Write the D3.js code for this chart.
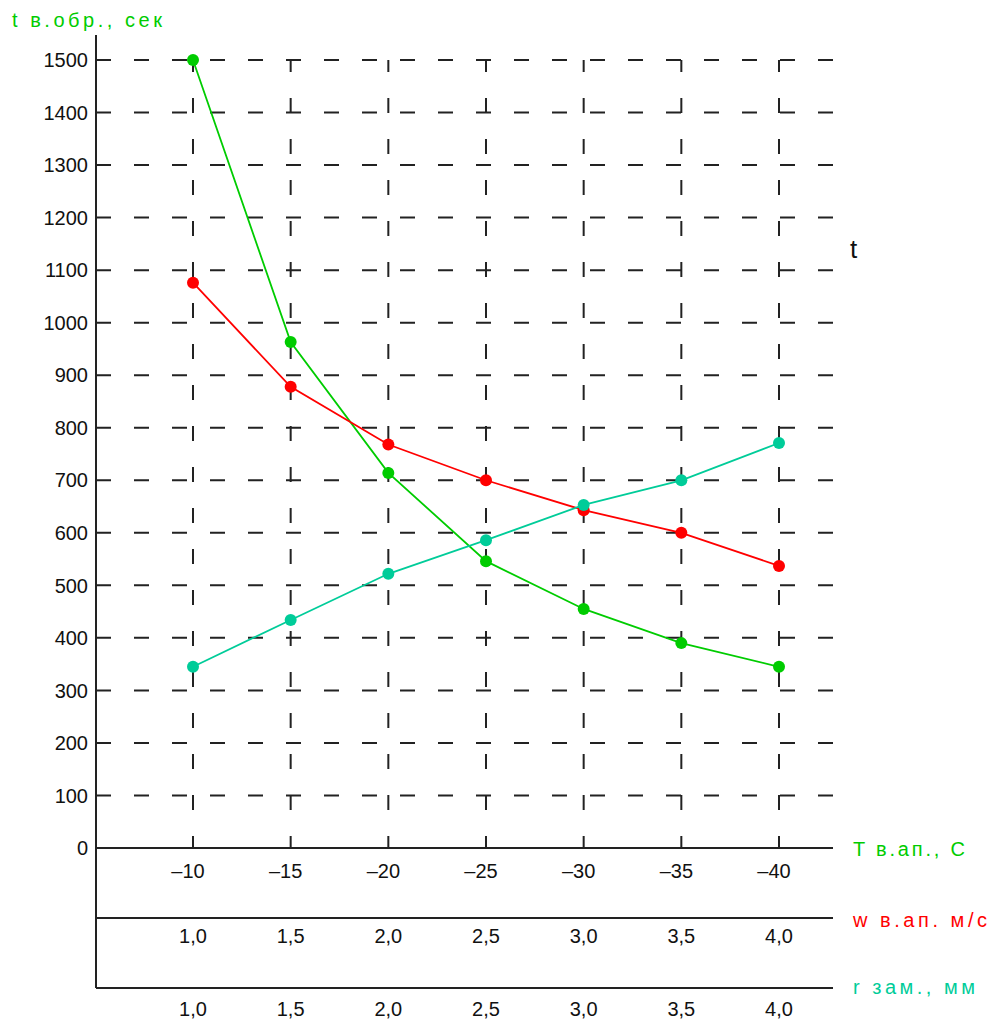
<!DOCTYPE html>
<html>
  <head>
    <meta charset="utf-8">
    <title>t в.обр.</title>
<style>
  body { margin: 0; background: #fff; }
  svg text { font-family: "Liberation Sans", Arial, sans-serif; }
  .grid line { stroke: #222; stroke-width: 2; }
  .frame line { stroke: #222; stroke-width: 2; }
</style>
  </head>
  <body>
    <div id="viz"></div>

  <script src="https://cdnjs.cloudflare.com/ajax/libs/d3/7.8.5/d3.min.js"></script>
  <script>

    // categories on the three bottom axes
    var tempC     = [-10, -15, -20, -25, -30, -35, -40];
    var windSpeed = [1.0, 1.5, 2.0, 2.5, 3.0, 3.5, 4.0];
    var thickness = [1.0, 1.5, 2.0, 2.5, 3.0, 3.5, 4.0];

    // t в.обр., сек
    var timeByTemp  = [1500, 963, 714, 546, 455, 390, 345];
    var timeByWind  = [1076, 878, 768, 700, 643, 600, 537];
    var timeByThick = [345, 434, 522, 586, 653, 700, 771];

    var yTicks = [0, 100, 200, 300, 400, 500, 600, 700, 800, 900, 1000, 1100, 1200, 1300, 1400, 1500];

    (function() {
      var margin = {top: 60, left: 96},
          width = 737,
          height = 788;

      var green = "#00cc00", red = "#ff0000", teal = "#00cc99";

      var y = d3.scaleLinear().domain([0, 1500]).range([height, 0]);
      var xT = d3.scaleLinear().domain([-10, -40]).range([97, 683]);
      var xW = d3.scaleLinear().domain([1, 4]).range([97, 683]);
      var xR = d3.scaleLinear().domain([1, 4]).range([97, 683]);

      var comma = function(v) { return d3.format(".1f")(v).replace(".", ","); };

      var svg = d3.select("#viz").append("svg")
          .attr("width", 987)
          .attr("height", 1019)
        .append("g")
          .attr("transform", "translate(" + margin.left + "," + margin.top + ")");

      // dashed grid
      var grid = svg.append("g").attr("class", "grid");
      grid.selectAll(".h")
          .data(yTicks.filter(function(d) { return d > 0; }))
        .enter().append("line")
          .attr("x1", 0).attr("x2", width)
          .attr("y1", function(d) { return y(d); })
          .attr("y2", function(d) { return y(d); })
          .attr("stroke-dasharray", "15,23");

      grid.selectAll(".v")
          .data(tempC)
        .enter().append("line")
          .attr("x1", function(d) { return xT(d); })
          .attr("x2", function(d) { return xT(d); })
          .attr("y1", y(1500)).attr("y2", y(0))
          .attr("stroke-dasharray", "15,26")
          .attr("stroke-dashoffset", 3);

      // axes frame
      var frame = svg.append("g").attr("class", "frame");
      frame.append("line").attr("x1", 0).attr("x2", 0).attr("y1", -25).attr("y2", height + 140);
      [0, 70, 140].forEach(function(off) {
        frame.append("line")
          .attr("x1", 0).attr("x2", width)
          .attr("y1", height + off).attr("y2", height + off);
      });

      // y tick labels
      svg.selectAll(".ylab")
          .data(yTicks)
        .enter().append("text")
          .attr("x", -8)
          .attr("y", function(d) { return y(d); })
          .attr("dy", "0.36em")
          .attr("text-anchor", "end")
          .attr("font-size", 20)
          .attr("fill", "#111")
          .text(function(d) { return d; });

      // bottom scales labels
      svg.selectAll(".tlab")
          .data(tempC)
        .enter().append("text")
          .attr("x", function(d) { return xT(d) - 5; })
          .attr("y", height + 30)
          .attr("text-anchor", "middle")
          .attr("font-size", 20)
          .attr("fill", "#111")
          .text(function(d) { return "\u2013" + Math.abs(d); });

      svg.selectAll(".wlab")
          .data(windSpeed)
        .enter().append("text")
          .attr("x", function(d) { return xW(d); })
          .attr("y", height + 95)
          .attr("text-anchor", "middle")
          .attr("font-size", 20)
          .attr("fill", "#111")
          .text(comma);

      svg.selectAll(".rlab")
          .data(thickness)
        .enter().append("text")
          .attr("x", function(d) { return xR(d); })
          .attr("y", height + 168)
          .attr("text-anchor", "middle")
          .attr("font-size", 20)
          .attr("fill", "#111")
          .text(comma);

      // series
      var series = [
        {color: green, x: xT, keys: tempC, vals: timeByTemp},
        {color: red, x: xW, keys: windSpeed, vals: timeByWind},
        {color: teal, x: xR, keys: thickness, vals: timeByThick}
      ];

      series.forEach(function(s) {
        var pts = s.keys.map(function(k, i) { return [s.x(k), y(s.vals[i])]; });
        svg.append("path")
            .attr("d", d3.line()(pts))
            .attr("fill", "none")
            .attr("stroke", s.color)
            .attr("stroke-width", 1.8);
        svg.selectAll(null)
            .data(pts)
          .enter().append("circle")
            .attr("cx", function(d) { return d[0]; })
            .attr("cy", function(d) { return d[1]; })
            .attr("r", 6)
            .attr("fill", s.color);
      });

      // axis titles
      function title(x, yy, size, color, len, txt) {
        svg.append("text")
            .attr("x", x - margin.left).attr("y", yy - margin.top)
            .attr("font-size", size).attr("fill", color)
            .attr("textLength", len).attr("lengthAdjust", "spacing")
            .text(txt);
      }

      title(12, 27, 20, green, 150, "t в.обр., сек");
      title(853, 856, 20, green, 112, "T в.ап., С");
      title(853, 927, 20, red, 134, "w в.ап. м/с");
      title(853, 994, 20, teal, 122, "r зам., мм");

      svg.append("text")
          .attr("x", 850 - margin.left).attr("y", 258 - margin.top)
          .attr("font-size", 26).attr("fill", "#111")
          .text("t");

    })();

  </script>
  </body>
</html>
